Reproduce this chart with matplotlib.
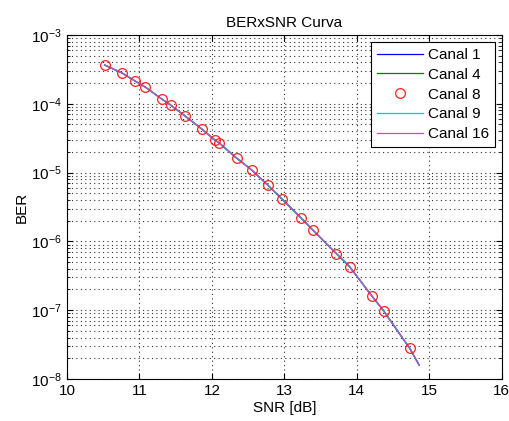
import matplotlib.pyplot as plt
from matplotlib.ticker import LogLocator, NullFormatter

plt.rcParams['font.family'] = ['Liberation Sans', 'DejaVu Sans']
plt.rcParams['mathtext.fontset'] = 'custom'
plt.rcParams['mathtext.rm'] = 'Liberation Sans'
plt.rcParams['mathtext.default'] = 'regular'

# SNR [dB] and BER
snr = [10.52, 10.76, 10.94, 11.08, 11.31, 11.43, 11.63, 11.86, 12.04, 12.10,
       12.34, 12.55, 12.77, 12.97, 13.23, 13.39, 13.72, 13.90, 14.21, 14.37, 14.73]
ber = [3.66e-4, 2.8e-4, 2.14e-4, 1.75e-4, 1.17e-4, 9.6e-5, 6.65e-5, 4.3e-5, 2.98e-5, 2.7e-5,
       1.63e-5, 1.09e-5, 6.6e-6, 4.1e-6, 2.2e-6, 1.47e-6, 6.6e-7, 4.3e-7, 1.6e-7, 9.8e-8, 2.8e-8]

# the line series run a little past the last marker
snr_line = snr + [14.86]
ber_line = ber + [1.6e-8]

series = [
    ('Canal 1', '#0000ff'),
    ('Canal 4', '#008000'),
    ('Canal 9', '#00cccc'),
    ('Canal 16', '#c050c8'),
]

fig = plt.figure(figsize=(5.09, 4.21), dpi=100)
ax = fig.add_axes([0.1316, 0.0998, 0.8540, 0.8171])

handles = {}
for name, col in series:
    h, = ax.semilogy(snr_line, ber_line, color=col, lw=0.9)
    handles[name] = h
h8, = ax.semilogy(snr, ber, 'o', mfc='none', mec='#ff2020', ms=7, mew=0.9)
handles['Canal 8'] = h8

ax.set_xlim(10, 16)
ax.set_ylim(1e-8, 1e-3)
ax.set_xticks([10, 11, 12, 13, 14, 15, 16])
ax.yaxis.set_major_locator(LogLocator(base=10, numticks=10))
ax.yaxis.set_minor_locator(LogLocator(base=10, subs=range(2, 10), numticks=20))
ax.yaxis.set_minor_formatter(NullFormatter())

ax.grid(True, which='major', color='#303030', ls=(0, (1, 3)), lw=0.8)
ax.grid(True, which='minor', axis='y', color='#303030', ls=(0, (1, 3)), lw=0.8)
ax.tick_params(which='both', direction='in', top=True, right=True, labelsize=11)
ax.tick_params(which='major', length=4)
ax.tick_params(which='minor', length=2)
for s in ax.spines.values():
    s.set_linewidth(0.8)

ax.set_title('BERxSNR Curva', fontsize=11, pad=6)
ax.set_xlabel('SNR [dB]', fontsize=11, labelpad=2)
ax.set_ylabel('BER', fontsize=11, labelpad=2)

order = ['Canal 1', 'Canal 4', 'Canal 8', 'Canal 9', 'Canal 16']
leg = ax.legend([handles[k] for k in order], order, loc='upper right', fontsize=11,
                fancybox=False, edgecolor='black', framealpha=1, handlelength=3.0,
                borderaxespad=0.45, borderpad=0.4, labelspacing=0.38, handletextpad=0.3)
leg.get_frame().set_linewidth(0.8)

fig.savefig('out.png', dpi=100)
